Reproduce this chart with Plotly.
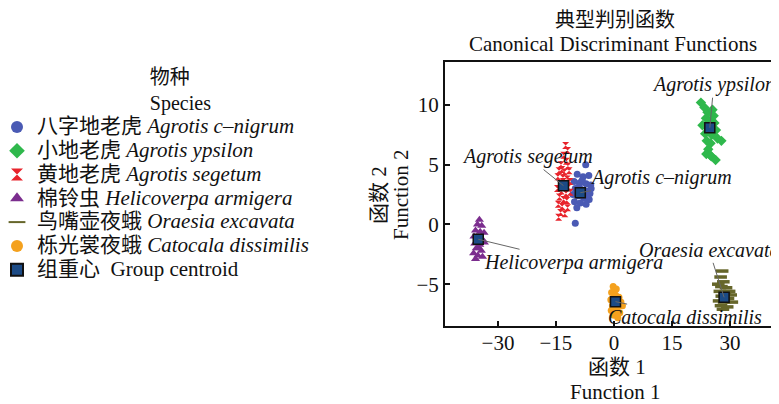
import plotly.graph_objects as go

# ---------------- data ----------------
species_names = [
    "八字地老虎 <i>Agrotis c–nigrum</i>",
    "小地老虎 <i>Agrotis ypsilon</i>",
    "黄地老虎 <i>Agrotis segetum</i>",
    "棉铃虫 <i>Helicoverpa armigera</i>",
    "鸟嘴壶夜蛾 <i>Oraesia excavata</i>",
    "栎光裳夜蛾 <i>Catocala dissimilis</i>",
]
centroid_name = "组重心  Group centroid"
label_names = [
    "Agrotis c–nigrum", "Agrotis ypsilon", "Agrotis segetum",
    "Helicoverpa armigera", "Oraesia excavata", "Catocala dissimilis",
]

cnigrum_x = [-7.3, -9.5, -8.0, -6.5, -10.3, -8.8, -7.2, -6.0, -10.0, -8.5, -7.0, -6.2, -10.6,
             -9.2, -7.8, -6.4, -10.2, -8.7, -7.2, -9.6, -8.2, -6.8, -10.0, -9.0, -5.9]
cnigrum_y = [5.0, 4.2, 4.0, 4.1, 3.6, 3.5, 3.4, 3.3, 3.0, 2.9, 2.8, 2.6, 2.5,
             2.4, 2.2, 2.1, 1.9, 1.8, 1.7, 1.4, 3.7, 2.4, 0.1, 3.2, 3.0]

ypsilon_x = [22.5, 23.4, 24.2, 25.5, 23.8, 25.0, 26.0, 24.5, 23.6, 25.3, 26.4,
             24.0, 25.0, 26.8, 27.8, 24.4, 23.9, 25.2, 26.3, 24.9, 22.9, 25.8]
ypsilon_y = [10.2, 9.8, 9.4, 9.6, 8.9, 8.7, 8.5, 8.0, 7.6, 7.5, 7.9,
             7.0, 6.8, 7.2, 7.0, 6.3, 5.9, 5.7, 5.4, 5.8, 8.3, 9.1]

segetum_x = [-12.5, -12.0, -13.0, -12.3, -14.2, -13.5, -12.8, -11.6, -14.5, -13.2, -12.1,
             -11.4, -14.0, -12.6, -11.8, -14.6, -13.6, -12.4, -11.3, -14.1, -13.0, -12.2,
             -14.4, -13.4, -12.0, -13.8, -12.7, -14.3, -13.1, -11.9, -13.7]
segetum_y = [6.6, 6.2, 5.8, 5.3, 4.5, 4.6, 4.4, 4.5, 4.0, 3.9, 3.8,
             3.6, 3.4, 3.3, 3.1, 3.0, 2.8, 2.6, 2.7, 2.3, 2.1, 2.0,
             1.7, 1.5, 1.4, 1.0, 0.9, 0.6, 3.6, 4.9, 5.0]

helico_x = [-34.8, -35.3, -34.2, -35.8, -34.6, -33.6, -36.2, -35.0, -33.9, -36.0,
            -34.7, -33.5, -35.6, -34.3, -36.3, -35.2, -34.0, -35.8, -34.9, -35.4]
helico_y = [0.4, 0.0, -0.1, -0.5, -0.6, -0.7, -1.0, -1.1, -1.3, -1.6,
            -1.7, -1.5, -2.0, -2.2, -2.4, -2.6, -2.7, -2.9, -2.0, -1.4]

oraesia_x = [28.0, 27.6, 28.3, 27.8, 29.0, 27.4, 28.7, 30.2, 27.9, 29.5, 27.2, 28.5,
             30.5, 27.7, 29.3, 28.2, 27.0, 29.8]
oraesia_y = [-3.9, -4.4, -4.8, -5.2, -5.3, -5.6, -5.7, -5.9, -6.0, -6.2, -6.4, -6.5,
             -6.5, -6.8, -6.9, -7.1, -5.0, -5.6]

catocala_x = [-0.2, 0.6, -0.6, 0.4, 1.3, -0.8, 0.2, 1.8, -0.4, 0.9, 2.2, -0.7, 0.5,
              1.5, 0.0, 1.0, 0.3]
catocala_y = [-5.2, -5.4, -5.7, -5.9, -6.1, -6.3, -6.4, -6.5, -6.8, -6.9, -6.8, -7.2, -7.3,
              -7.4, -7.6, -7.8, -6.0]

centroid_x = [-8.7, 24.8, -13.05, -35.1, 28.5, 0.4]
centroid_y = [2.66, 8.1, 3.25, -1.24, -6.1, -6.46]

x_ticks = [-30, -15, 0, 15, 30]
y_ticks = [-5, 0, 5, 10]

# ---------------- styling ----------------
FONT = "Liberation Serif, Noto Sans CJK SC, serif"
FS = 21
colors = ["#4a5ab4", "#2fb84c", "#e8242c", "#7b2d8e", "#66662a", "#f4a11e"]
symbols = ["circle", "diamond", "hourglass", "triangle-up", "line-ew", "circle"]
sizes = [7, 8, 7, 8, 9, 7]

xs = [cnigrum_x, ypsilon_x, segetum_x, helico_x, oraesia_x, catocala_x]
ys = [cnigrum_y, ypsilon_y, segetum_y, helico_y, oraesia_y, catocala_y]


def big(t):
    return '<span style="font-size:%dpx">%s</span>' % (FS, t)


fig = go.Figure()
for i in range(6):
    marker = dict(symbol=symbols[i], color=colors[i], size=sizes[i], line=dict(width=0))
    if symbols[i] == "line-ew":
        marker = dict(symbol="line-ew", color=colors[i], size=sizes[i],
                      line=dict(width=3.5, color=colors[i]))
    fig.add_trace(go.Scatter(x=xs[i], y=ys[i], mode="markers", name=big(species_names[i]),
                             marker=marker))

fig.add_trace(go.Scatter(x=centroid_x, y=centroid_y, mode="markers",
                         name=big(centroid_name),
                         marker=dict(symbol="square", size=10, color="#1c4b86",
                                     line=dict(width=1.5, color="#111111"))))

# page body has an 8px default margin: target screen pixels are shifted by OFF
OFF = 8
FW, FH = 779, 404
L, R, T, B = 445 - OFF, 779 - OFF, 62 - OFF, 326 - OFF
W, H = R - L, B - T


def px(xs_):
    return (xs_ - OFF - L) / W


def py(ys_):
    return (B - (ys_ - OFF)) / H


annots = []
offsets = [(81, -15), (4, -43), (-36, -29), (95, 23), (-15, -47), (70, 15)]
for i in range(6):
    annots.append(dict(x=centroid_x[i], y=centroid_y[i], xref="x", yref="y",
                       text="<i>" + label_names[i] + "</i>", showarrow=True,
                       arrowhead=0, arrowwidth=1, arrowcolor="#666666",
                       ax=offsets[i][0], ay=offsets[i][1],
                       font=dict(family=FONT, size=20, color="#111111")))


def txt(t, xs_, ys_, angle=0, size=FS):
    return dict(text=t, x=px(xs_), y=py(ys_), xref="paper", yref="paper",
                xanchor="center", yanchor="middle", showarrow=False, textangle=angle,
                font=dict(family=FONT, size=size, color="#111111"))


annots += [
    txt("典型判别函数", 615, 20, size=20),
    txt("Canonical Discriminant Functions", 613, 44),
    txt("函数 1", 617, 367),
    txt("Function 1", 615, 392),
    txt("函数 2", 379, 195, angle=-90),
    txt("Function 2", 401, 195, angle=-90),
]

pad = "\u00a0" * 10
fig.update_layout(
    width=FW, height=FH,
    margin=dict(l=L, r=FW - R, t=T, b=FH - B, pad=0, autoexpand=False),
    paper_bgcolor="white", plot_bgcolor="white",
    font=dict(family=FONT, size=FS, color="#111111"),
    showlegend=True,
    legend=dict(
        xref="paper", yref="paper", x=px(-3), y=py(58),
        xanchor="left", yanchor="top", maxheight=380,
        title=dict(text=pad + "物种<br>" + pad + "Species", side="top center",
                   font=dict(family=FONT, size=20)),
        font=dict(family=FONT, size=16, color="#111111"),
        itemsizing="constant", bgcolor="rgba(0,0,0,0)", tracegroupgap=0,
    ),
    annotations=annots,
)
fig.update_xaxes(range=[-43.7, 42.7], tickvals=x_ticks, ticks="inside", ticklen=5,
                 tickwidth=1.5, tickcolor="#111111", showline=True, linewidth=2,
                 linecolor="#111111", mirror=True, showgrid=False, zeroline=False,
                 tickfont=dict(family=FONT, size=FS), automargin=False,
                 ticklabelstandoff=-3)
fig.update_yaxes(range=[-8.5, 13.6], tickvals=y_ticks, ticks="inside", ticklen=5,
                 tickwidth=1.5, tickcolor="#111111", showline=True, linewidth=2,
                 linecolor="#111111", mirror=False, showgrid=False, zeroline=False,
                 tickfont=dict(family=FONT, size=FS), automargin=False)

fig.write_html("out.html")
